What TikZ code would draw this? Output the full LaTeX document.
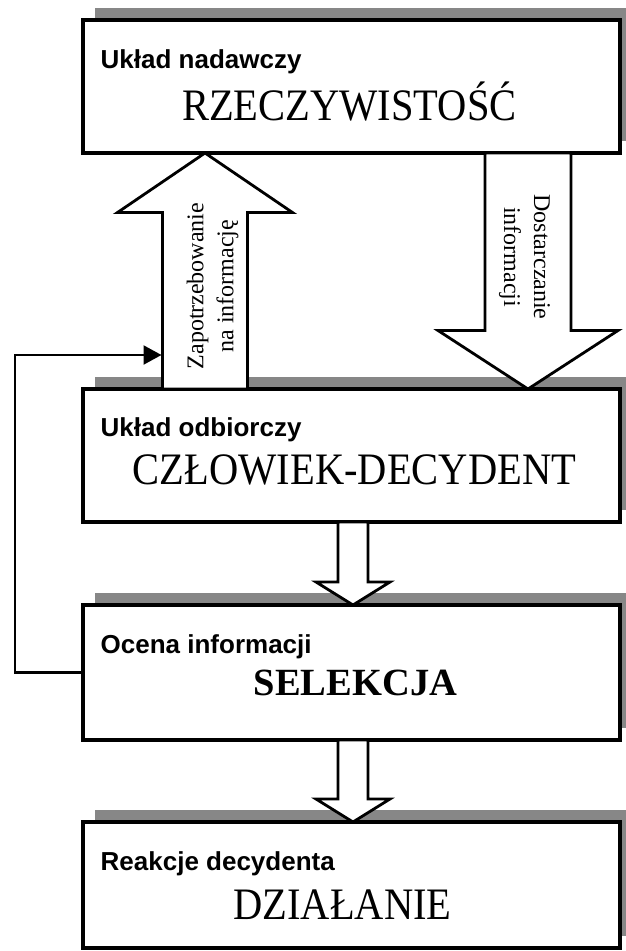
\documentclass[tikz,border=0pt]{standalone}
\usepackage{fontspec}
\setmainfont{Liberation Serif}
\newfontfamily\labfont{Liberation Sans}
\newfontfamily\bigfont[FakeStretch=0.9]{Liberation Serif}
\usetikzlibrary{calc,arrows.meta,backgrounds}
\definecolor{shadegray}{RGB}{135,135,135}
\tikzset{
  box/.style={draw, line width=3.3pt, fill=white, minimum width=537pt,
    inner sep=0pt, outer sep=0pt},
  boxshade/.style={fill=shadegray, draw=none},
  blockarrow/.style={draw, fill=white, line width=2.8pt, line join=miter},
  boxlabel/.style={anchor=base west, inner sep=0pt,
    font=\labfont\bfseries\fontsize{26}{30}\selectfont},
  boxtitle/.style={anchor=base, inner sep=0pt,
    font=\bigfont\fontsize{45}{50}\selectfont},
  arrowtext/.style={inner sep=0pt, align=center,
    font=\fontsize{24}{30}\selectfont},
  feedback/.style={line width=2.2pt, -{Triangle[length=18pt,width=19pt]}},
}
% vertical block arrow: from, to, shaft half-width, head half-width, head length
\newcommand{\vblock}[5]{%
  \path ($(#2)!#5pt!(#1)$) coordinate (hb);
  \draw[blockarrow] ($(#1)+(-#3,0)$) -- ($(hb)+(-#3,0)$) -- ($(hb)+(-#4,0)$)
    -- (#2) -- ($(hb)+(#4,0)$) -- ($(hb)+(#3,0)$) -- ($(#1)+(#3,0)$) -- cycle;
}
\begin{document}
\begin{tikzpicture}[x=1pt,y=-1pt]
\useasboundingbox (0,0) rectangle (626,951);

% the four stages
\node[box, minimum height=133pt] (b1) at (351.5,86.5) {};
\node[box, minimum height=133pt] (b2) at (351.5,455.5) {};
\node[box, minimum height=135pt] (b3) at (351.5,672.5) {};
\node[box, minimum height=126pt] (b4) at (351.5,885) {};

% offset shadows behind the boxes
\begin{scope}[on background layer]
  \foreach \b in {b1,b2,b3,b4}
    \fill[boxshade] ($(\b.north west)+(12,-12)$) rectangle ($(\b.south east)+(12,-12)$);
\end{scope}

% box texts
\node[boxlabel] (l1) at ($(b1.north west)+(17.5,48)$) {Układ nadawczy};
\node[boxtitle] (t1) at ($(b1.north)+(-2,100)$) {RZECZYWISTOŚĆ};
\node[boxlabel] (l2) at ($(b2.north west)+(17.5,47)$) {Układ odbiorczy};
\node[boxtitle] (t2) at ($(b2.north)+(3,95)$) {CZŁOWIEK-DECYDENT};
\node[boxlabel] (l3) at ($(b3.north west)+(17.5,48)$) {Ocena informacji};
\node[boxtitle, font=\bfseries\fontsize{38.5}{44}\selectfont] (t3)
  at ($(b3.north)+(4,90)$) {SELEKCJA};
\node[boxlabel] (l4) at ($(b4.north west)+(17.5,48)$) {Reakcje decydenta};
\node[boxtitle] (t4) at ($(b4.north)+(-9,97)$) {DZIAŁANIE};

% arrow axes
\coordinate (upaxis) at (205,0);
\coordinate (downaxis) at (528,0);
\coordinate (midaxis) at (353,0);
\coordinate (u1) at (b2.north -| upaxis);
\coordinate (u2) at (b1.south -| upaxis);
\coordinate (d1) at (b1.south -| downaxis);
\coordinate (d2) at (b2.north -| downaxis);
\coordinate (s1) at (b2.south -| midaxis);
\coordinate (s2) at (b3.north -| midaxis);
\coordinate (s3) at (b3.south -| midaxis);
\coordinate (s4) at (b4.north -| midaxis);

% block arrows between the stages
\vblock{u1}{u2}{42.5}{87.5}{59.5}
\vblock{d1}{d2}{43}{90}{58.5}
\vblock{s1}{s2}{15}{37}{23}
\vblock{s3}{s4}{15}{37}{23}

\node[arrowtext, rotate=90] (tz) at (212.5,286) {Zapotrzebowanie\\na informację};
\node[arrowtext, rotate=-90] (td) at (524.5,257) {Dostarczanie\\informacji};

% feedback from the evaluation back to the demand for information
\coordinate (fbtarget) at ($(u1)+(-43.5,0)$);
\coordinate (fbin) at (fbtarget |- 0,355);
\draw[feedback] (b3.west) -- ++(-68,0) |- (fbin);
\end{tikzpicture}
\end{document}
